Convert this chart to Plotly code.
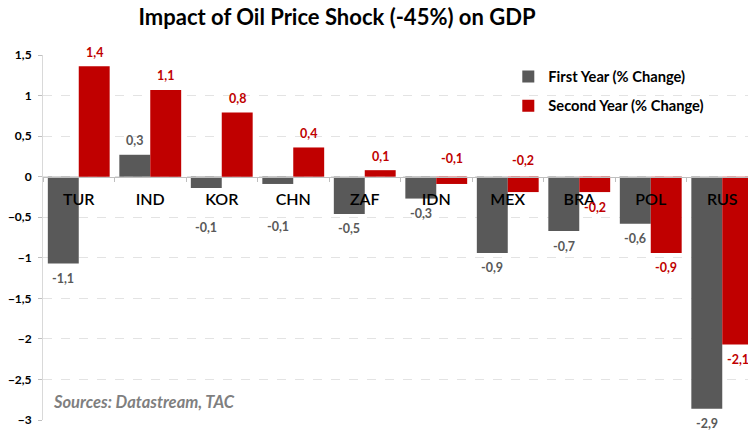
import plotly.graph_objects as go

categories = ["TUR", "IND", "KOR", "CHN", "ZAF", "IDN", "MEX", "BRA", "POL", "RUS"]
first_year = [-1.07, 0.27, -0.14, -0.09, -0.46, -0.27, -0.94, -0.67, -0.58, -2.86]
second_year = [1.36, 1.07, 0.79, 0.36, 0.08, -0.09, -0.19, -0.19, -0.94, -2.07]
series_names = ["First Year (% Change)", "Second Year (% Change)"]
y_ticks = [1.5, 1, 0.5, 0, -0.5, -1, -1.5, -2, -2.5, -3]

GRAY = "#595959"
RED = "#C00000"
FONT = "Lato"
BARGAP = 0.135

# label placement tweaks (pixel shifts), as in the original chart
label_shift_first = {"KOR": -39, "CHN": -43}
label_shift_second = {"IDN": 18, "MEX": 16}

fig = go.Figure()
for name, vals, color, grp in [(series_names[0], first_year, GRAY, "a"),
                               (series_names[1], second_year, RED, "b")]:
    fig.add_trace(go.Bar(
        x=categories, y=vals, name=name, marker=dict(color=color, line=dict(width=0)),
        legendgroup=grp,
    ))

annotations = []
half = (1 - BARGAP) / 4
for k, (vals, color, shifts, off) in enumerate([
        (first_year, GRAY, label_shift_first, -half),
        (second_year, RED, label_shift_second, half)]):
    for i, (c, v) in enumerate(zip(categories, vals)):
        if c in shifts:
            ys = shifts[c]
            yv = v if ys < 0 else 0
        else:
            ys = 14 if v >= 0 else -15
            yv = v
        annotations.append(dict(
            x=i + off, y=yv, xref="x", yref="y", text=f"{v:.1f}".replace(".", ","),
            showarrow=False, yshift=ys, yanchor="middle",
            font=dict(family=FONT, size=12.5, color=color, weight="bold"),
        ))

annotations.append(dict(
    x=0.011, y=0.049, xref="paper", yref="paper", xanchor="left", yanchor="middle",
    text="<b><i>Sources: Datastream, TAC</i></b>", showarrow=False,
    font=dict(family=FONT, size=16.5, color="#7F7F7F"),
))

fig.update_layout(
    width=748, height=435,
    margin=dict(l=43, r=0, t=55, b=15, autoexpand=False),
    paper_bgcolor="white", plot_bgcolor="white",
    separators=",.",
    barmode="group", bargap=BARGAP, bargroupgap=0,
    title=dict(text="<b>Impact of Oil Price Shock (-45%) on GDP</b>",
               x=337 / 748, xanchor="center", xref="container",
               y=1 - 17 / 435, yanchor="middle", yref="container",
               font=dict(family=FONT, size=22, color="black")),
    legend=dict(x=0.66, y=0.985, xanchor="left", yanchor="top",
                font=dict(family=FONT, size=14.7, color="black", weight="bold"),
                tracegroupgap=7, bgcolor="rgba(0,0,0,0)"),
    xaxis=dict(
        type="category", range=[-0.5, 9.36], automargin=False,
        anchor="free", position=3 / 4.5,
        showline=True, linecolor="#BFBFBF", linewidth=1,
        ticks="outside", tickson="boundaries", ticklen=4, tickcolor="#BFBFBF",
        ticklabelstandoff=8,
        tickfont=dict(family=FONT, size=16, color="black", weight=600),
        showgrid=False, zeroline=False,
    ),
    yaxis=dict(
        range=[-3, 1.5], tickvals=y_ticks, automargin=False,
        showline=True, linecolor="#D9D9D9", linewidth=1,
        ticks="outside", ticklen=4, tickcolor="#BFBFBF",
        ticklabelstandoff=4,
        tickfont=dict(family=FONT, size=12, color="black", weight="bold"),
        showgrid=True, gridcolor="#E3E3E3", griddash="dash", gridwidth=1,
        zeroline=False,
    ),
    annotations=annotations,
)

fig.write_html(
    "out.html",
    config={"displayModeBar": False},
    post_script="document.body.style.margin='0';document.body.style.padding='0';",
)
